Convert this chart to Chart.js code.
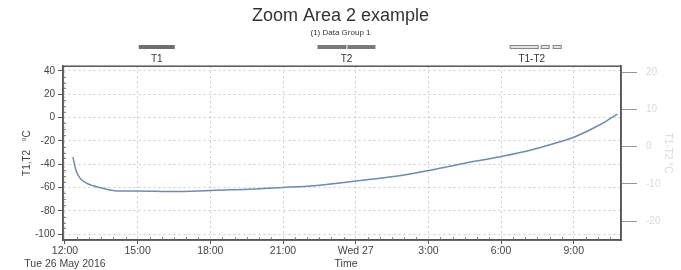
<!DOCTYPE html>
<html lang="en">
<head>
    <title>Zoom Area 2 example</title>
    <script src="https://cdn.jsdelivr.net/npm/chart.js"></script>
    <style>
        html, body {
            margin: 0;
            padding: 0;
            background: #fff;
        }
    </style>
</head>
<body>
<canvas id="myChart" width="681" height="270"></canvas>
<script>
    // hours after 12:00, Tue 26 May 2016
    const hours = [0.33, 0.45, 0.62, 0.87, 1.16, 1.73, 2.27, 3.0, 4.5, 6.0, 7.6, 9.0, 10.5, 12.0, 12.6, 13.8, 15.0, 16.3, 18.1, 19.2, 20.4, 21.1, 22.1, 22.8];
    const t1 = [-34, -45, -52, -56, -58.5, -61.5, -63, -63, -63.5, -62.5, -61.5, -60, -58, -54.5, -53, -50, -45.5, -40, -33, -28, -21, -16, -6, 3];

    const xTickValues = [0, 3, 6, 9, 12, 15, 18, 21];
    const xTickLabels = [['12:00', 'Tue 26 May 2016'], '15:00', '18:00', '21:00', 'Wed 27', '3:00', '6:00', '9:00'];
    const yTicks = [40, 20, 0, -20, -40, -60, -80, -100];
    const rightTicks = [20, 10, 0, -10, -20];
    const legendNames = ['T1', 'T2', 'T1-T2'];

    const FONT = "'Liberation Sans', Arial, sans-serif";
    const FRAME = '#555';

    function fixSize(prop, size) {
        return function (scale) {
            scale[prop] = size;
            scale.paddingTop = 0;
            scale.paddingBottom = 0;
            scale.paddingLeft = 0;
            scale.paddingRight = 0;
        };
    }

    // frame, minor ticks, legend and the "Time" caption
    const decorations = {
        id: 'decorations',
        afterDraw(chart) {
            const ctx = chart.ctx;
            const a = chart.chartArea;
            const x = chart.scales.x;
            const y = chart.scales.y;

            ctx.save();
            ctx.strokeStyle = '#888';
            ctx.lineWidth = 1;
            ctx.beginPath();
            for (let v = -100; v <= 40; v += 5) {
                if (v % 20 === 0) continue;
                const py = Math.round(y.getPixelForValue(v)) + 0.5;
                ctx.moveTo(a.left, py);
                ctx.lineTo(a.left + 3, py);
            }
            for (let h = 0.5; h < 23; h += 0.5) {
                if (h % 3 === 0) continue;
                const px = Math.round(x.getPixelForValue(h)) + 0.5;
                ctx.moveTo(px, a.bottom);
                ctx.lineTo(px, a.bottom - 3);
            }
            ctx.stroke();

            ctx.strokeStyle = FRAME;
            ctx.lineWidth = 1.5;
            ctx.strokeRect(a.left, a.top, a.right - a.left, a.bottom - a.top);

            // legend: sample bar above each name
            const centres = [0.168, 0.508, 0.84];
            const w = a.right - a.left;
            ctx.font = '10px ' + FONT;
            ctx.textAlign = 'center';
            ctx.textBaseline = 'middle';
            legendNames.forEach((name, i) => {
                const cx = a.left + centres[i] * w;
                ctx.fillStyle = '#333';
                ctx.fillText(name, cx, 59);
                if (i === 0) {
                    ctx.fillStyle = '#6e6e6e';
                    ctx.fillRect(cx - 18, 45, 36, 4);
                } else if (i === 1) {
                    ctx.fillStyle = '#7a7a7a';
                    ctx.fillRect(cx - 29, 45, 29, 4);
                    ctx.fillRect(cx + 1, 45, 28, 4);
                } else {
                    ctx.fillStyle = '#e4e4e4';
                    ctx.strokeStyle = '#888';
                    ctx.lineWidth = 1;
                    [[-22, 29], [9, 9], [21, 9]].forEach(s => {
                        ctx.fillRect(cx + s[0], 45, s[1], 4);
                        ctx.strokeRect(cx + s[0] + 0.5, 45.5, s[1] - 1, 3);
                    });
                }
            });

            ctx.fillStyle = '#444';
            ctx.font = '10.5px ' + FONT;
            ctx.fillText('Time', (a.left + a.right) / 2 + 4, 264);
            ctx.restore();
        }
    };

    const ctx = document.getElementById('myChart').getContext('2d');
    const chart = new Chart(ctx, {
        type: 'line',
        data: {
            datasets: [
                {
                    label: legendNames[0],
                    data: hours.map((h, i) => ({x: h, y: t1[i]})),
                    borderColor: '#6d8cae',
                    backgroundColor: '#6d8cae',
                    borderWidth: 1.5,
                    pointRadius: 0,
                    cubicInterpolationMode: 'monotone',
                    yAxisID: 'y',
                },
            ],
        },
        options: {
            responsive: false,
            animation: false,
            devicePixelRatio: 1,
            layout: {padding: 0},
            plugins: {
                legend: {display: false},
                tooltip: {enabled: false},
                title: {
                    display: true,
                    text: 'Zoom Area 2 example',
                    color: '#333',
                    font: {family: FONT, size: 18, weight: 'normal'},
                    padding: {top: 5, bottom: 0},
                },
                subtitle: {
                    display: true,
                    text: '(1) Data Group 1',
                    color: '#333',
                    font: {family: FONT, size: 8},
                    padding: {top: 1, bottom: 29},
                },
            },
            scales: {
                x: {
                    type: 'linear',
                    min: -0.08,
                    max: 22.95,
                    afterBuildTicks: s => { s.ticks = xTickValues.map(v => ({value: v})); },
                    afterFit: fixSize('height', 30),
                    ticks: {
                        callback: (v, i) => xTickLabels[i],
                        color: '#444',
                        font: {family: FONT, size: 10.5},
                        padding: 1,
                        maxRotation: 0,
                        autoSkip: false,
                    },
                    grid: {color: '#cccccc', tickColor: FRAME, tickLength: 4},
                    border: {color: FRAME, width: 1.5, dash: [2, 3]},
                },
                y: {
                    position: 'left',
                    min: -105,
                    max: 44,
                    afterBuildTicks: s => { s.ticks = yTicks.map(v => ({value: v})); },
                    afterFit: fixSize('width', 63),
                    ticks: {
                        color: '#444',
                        font: {family: FONT, size: 10},
                        padding: 3,
                    },
                    grid: {color: '#cccccc', tickColor: FRAME, tickLength: 5},
                    border: {color: FRAME, width: 1.5, dash: [2, 3]},
                    title: {
                        display: true,
                        text: 'T1,T2   °C',
                        color: '#444',
                        font: {family: FONT, size: 10},
                        padding: {top: 21, bottom: 0},
                    },
                },
                y1: {
                    position: 'right',
                    min: -25.1,
                    max: 21.6,
                    afterBuildTicks: s => { s.ticks = rightTicks.map(v => ({value: v})); },
                    afterFit: fixSize('width', 60),
                    ticks: {
                        color: '#dadada',
                        font: {family: FONT, size: 10},
                        padding: 9,
                    },
                    grid: {drawOnChartArea: false, tickColor: '#999', tickLength: 16},
                    border: {color: FRAME, width: 1.5},
                    title: {
                        display: true,
                        text: 'T1-T2 °C',
                        color: '#dadada',
                        font: {family: FONT, size: 10},
                        padding: {top: 7, bottom: 0},
                    },
                },
            },
        },
        plugins: [decorations],
    });
</script>
</body>
</html>
